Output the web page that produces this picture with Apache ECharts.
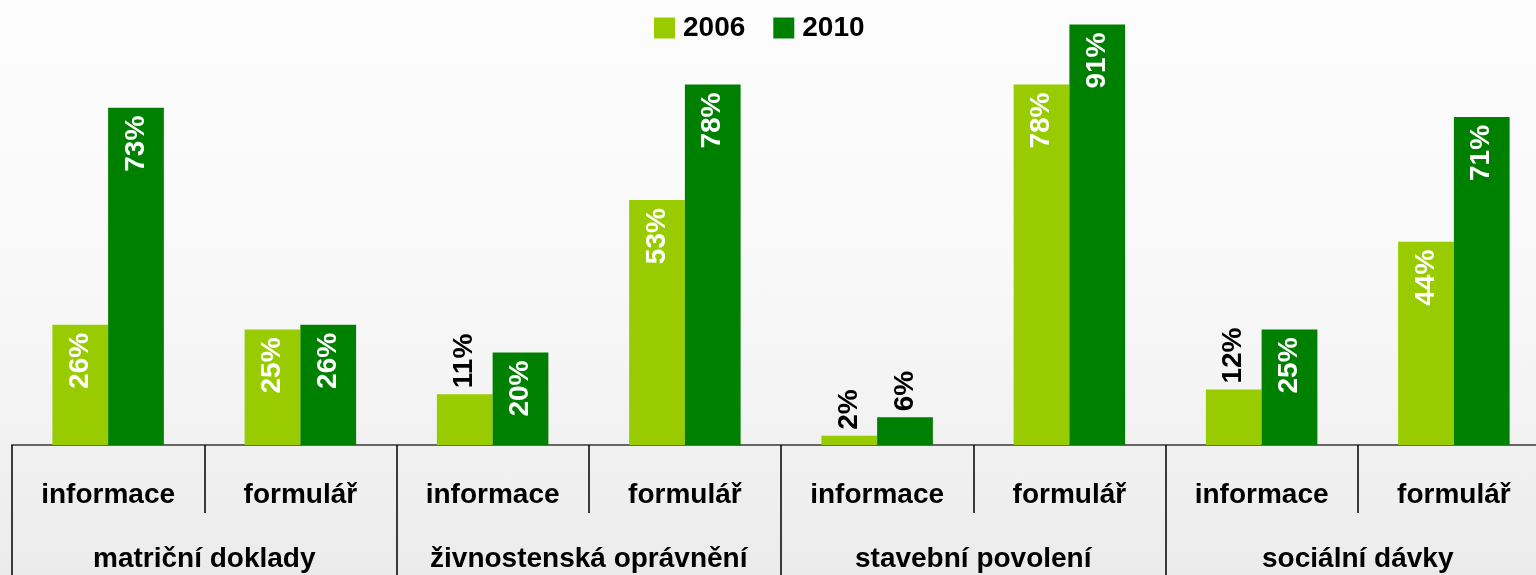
<!DOCTYPE html>
<html>
<head>
<meta charset="utf-8">
<script src="https://cdn.jsdelivr.net/npm/echarts@6/dist/echarts.min.js"></script>
<style>
  html, body {
    margin: 0;
    padding: 0;
    width: 1536px;
    height: 575px;
    overflow: hidden;
    background: linear-gradient(to bottom, #fdfdfd 0%, #f7f7f7 55%, #ebebeb 100%);
  }
  /* graf je širší než okno, poslední skupina přesahuje vpravo */
  #chart {
    width: 1550px;
    height: 575px;
  }
</style>
</head>
<body>
<div id="chart"></div>
<script>
// podkategorie a skupiny
const subCategories = ['informace', 'formulář', 'informace', 'formulář', 'informace', 'formulář', 'informace', 'formulář']
const groups = ['matriční doklady', 'živnostenská oprávnění', 'stavební povolení', 'sociální dávky']
const values2006 = [26, 25, 11, 53, 2, 78, 12, 44]
const values2010 = [73, 26, 20, 78, 6, 91, 25, 71]

const FONT = '"Liberation Sans", Arial, sans-serif'
const INSIDE_MIN = 15 // pod touto hodnotou je popisek nad sloupcem

// popisek uvnitř (bílý) nebo nad sloupcem (černý)
const toData = (values) => values.map(v => ({
  value: v,
  label: v >= INSIDE_MIN
    ? { position: 'insideTop', align: 'right', verticalAlign: 'middle', color: '#fff', distance: 8 }
    : { position: 'top', align: 'left', verticalAlign: 'middle', color: '#000', distance: 6 }
}))

const labelBase = {
  show: true,
  rotate: 90,
  fontFamily: FONT,
  fontWeight: 'bold',
  fontSize: 28,
  formatter: '{c}%'
}

const chart = echarts.init(document.getElementById('chart'))

const option = {
  animation: false,
  legend: {
    data: ['2006', '2010'],
    top: 14,
    left: 654,
    itemWidth: 21,
    itemHeight: 21,
    itemGap: 28,
    icon: 'rect',
    padding: 0,
    textStyle: {
      fontFamily: FONT,
      fontWeight: 'bold',
      fontSize: 28,
      color: '#000',
      padding: [0, 0, 0, 3]
    }
  },
  grid: {
    left: 12,
    top: 0,
    right: 0,
    bottom: 130,
    containLabel: false
  },
  xAxis: [
    {
      type: 'category',
      data: subCategories,
      position: 'bottom',
      axisLine: { lineStyle: { color: '#666', width: 2 } },
      axisTick: { show: true, length: 68, interval: 0, lineStyle: { color: '#000', width: 1.5 } },
      axisLabel: {
        interval: 0,
        margin: 36,
        fontFamily: FONT,
        fontWeight: 'bold',
        fontSize: 28,
        color: '#000'
      }
    },
    {
      type: 'category',
      data: groups,
      position: 'bottom',
      axisLine: { show: false },
      axisTick: { show: true, length: 135, interval: 0, lineStyle: { color: '#000', width: 1.5 } },
      axisLabel: {
        interval: 0,
        margin: 100,
        fontFamily: FONT,
        fontWeight: 'bold',
        fontSize: 28,
        color: '#000'
      }
    }
  ],
  yAxis: {
    type: 'value',
    min: 0,
    max: 96.3,
    show: false,
    splitLine: { show: false }
  },
  series: [
    {
      name: '2006',
      type: 'bar',
      xAxisIndex: 0,
      barGap: '0%',
      barCategoryGap: '42%',
      itemStyle: { color: '#99CC00' },
      label: labelBase,
      data: toData(values2006)
    },
    {
      name: '2010',
      type: 'bar',
      xAxisIndex: 0,
      itemStyle: { color: '#008000' },
      label: labelBase,
      data: toData(values2010)
    }
  ]
}

chart.setOption(option)
window.addEventListener('resize', () => chart.resize())
</script>
</body>
</html>
